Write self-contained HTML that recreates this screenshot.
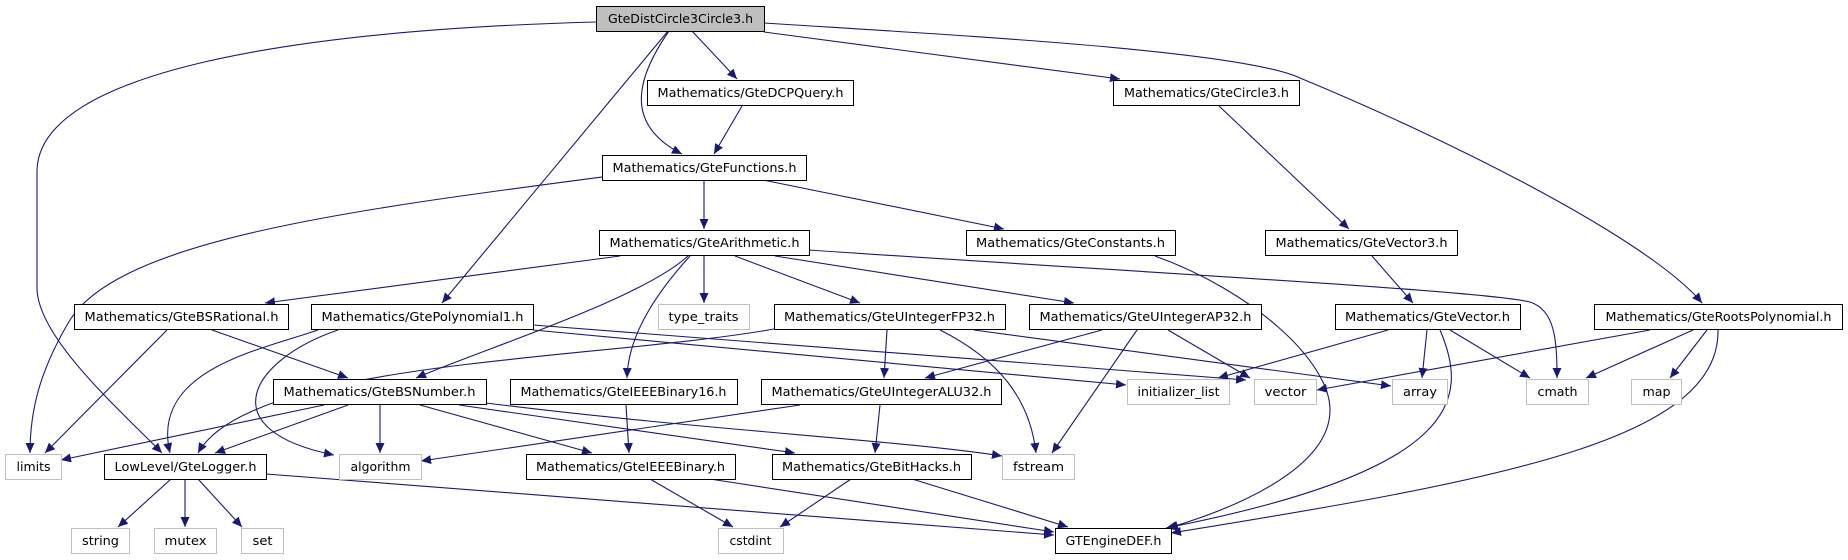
<!DOCTYPE html>
<html><head><meta charset="utf-8"><style>
html,body{margin:0;padding:0;background:#fff;width:1848px;height:560px;overflow:hidden}
svg text{font-family:"DejaVu Sans","Liberation Sans",sans-serif;font-size:12.5px;fill:#000}
</style></head><body>
<svg width="1848" height="560" viewBox="0 0 1848 560" xmlns="http://www.w3.org/2000/svg">
<defs>
<marker id="a" viewBox="0 0 10 10" refX="10" refY="5" markerWidth="10" markerHeight="10" markerUnits="userSpaceOnUse" orient="auto">
<path d="M0,0.5 L10,5 L0,9.5 z" fill="#191970"/>
</marker>
</defs>
<g fill="none" stroke="#191970" stroke-width="1.1" marker-end="url(#a)">
<path d="M596,22 C300,30 40,70 37,170 L37,290 C40,340 120,410 162,453"/>
<path d="M669,31 C635,80 625,125 682,154"/>
<path d="M668,31 L442,303"/>
<path d="M692,31 L737,79"/>
<path d="M764,32 L1120,79"/>
<path d="M764,23 C950,35 1240,50 1300,78 C1450,140 1650,240 1702,303"/>
<path d="M742,106 L714,154"/>
<path d="M602,177 C350,210 120,240 70,320 C40,370 30,410 30,453"/>
<path d="M704,180 L704,229"/>
<path d="M763,180 L1004,229"/>
<path d="M620,256 L265,303"/>
<path d="M688,256 C640,300 480,350 416,378"/>
<path d="M690,256 C650,300 628,340 627,378"/>
<path d="M704,256 L704,303"/>
<path d="M735,256 L860,303"/>
<path d="M775,256 L1074,303"/>
<path d="M809,250 C1100,270 1480,290 1530,302 C1555,310 1557,340 1557,378"/>
<path d="M1155,256 C1250,290 1330,360 1330,410 C1330,470 1230,510 1168,528"/>
<path d="M1372,256 L1413,303"/>
<path d="M1219,106 L1349,229"/>
<path d="M167,330 L45,453"/>
<path d="M212,330 L348,378"/>
<path d="M318,330 C260,350 150,370 170,453"/>
<path d="M338,330 C250,360 210,430 334,455"/>
<path d="M533,325 L1246,380"/>
<path d="M533,330 L1126,385"/>
<path d="M774,329 C600,360 250,360 198,453"/>
<path d="M887,330 L884,378"/>
<path d="M940,330 C1000,360 1030,400 1036,453"/>
<path d="M974,330 L1391,386"/>
<path d="M1102,330 L925,378"/>
<path d="M1137,330 L1052,453"/>
<path d="M1168,330 L1250,378"/>
<path d="M1388,330 L1218,378"/>
<path d="M1427,330 L1422,378"/>
<path d="M1450,330 L1530,378"/>
<path d="M1440,330 C1470,400 1460,470 1166,528"/>
<path d="M1650,330 L1317,390"/>
<path d="M1693,330 L1586,378"/>
<path d="M1707,330 L1670,378"/>
<path d="M1718,330 C1720,440 1500,480 1171,533"/>
<path d="M324,405 L61,460"/>
<path d="M348,405 L215,453"/>
<path d="M380,405 L380,453"/>
<path d="M420,405 L592,453"/>
<path d="M459,405 L795,453"/>
<path d="M486,403 C700,430 900,440 1002,456"/>
<path d="M626,405 L629,453"/>
<path d="M800,405 L421,461"/>
<path d="M880,405 L875,453"/>
<path d="M171,479 L118,527"/>
<path d="M185,479 L185,527"/>
<path d="M198,479 L242,527"/>
<path d="M266,474 L1054,535"/>
<path d="M650,479 L733,527"/>
<path d="M710,479 L1054,532"/>
<path d="M851,479 L780,527"/>
<path d="M912,479 L1068,527"/>
</g>
<g stroke-width="1">
<rect x="596.5" y="6.5" width="168" height="25" fill="#bfbfbf" stroke="#000"/>
<g fill="#fff" stroke="#000">
<rect x="647.5" y="80.5" width="206" height="25"/>
<rect x="1113.5" y="80.5" width="186" height="25"/>
<rect x="602.5" y="155.5" width="204" height="25"/>
<rect x="599.5" y="230.5" width="210" height="25"/>
<rect x="966.5" y="230.5" width="209" height="25"/>
<rect x="1265.5" y="230.5" width="192" height="25"/>
<rect x="74.5" y="304.5" width="214" height="25"/>
<rect x="311.5" y="304.5" width="222" height="25"/>
<rect x="774.5" y="304.5" width="231" height="25"/>
<rect x="1029.5" y="304.5" width="232" height="25"/>
<rect x="1335.5" y="304.5" width="185" height="25"/>
<rect x="1594.5" y="304.5" width="248" height="25"/>
<rect x="273.5" y="379.5" width="213" height="25"/>
<rect x="510.5" y="379.5" width="227" height="25"/>
<rect x="761.5" y="379.5" width="240" height="25"/>
<rect x="104.5" y="454.5" width="162" height="25"/>
<rect x="526.5" y="454.5" width="209" height="25"/>
<rect x="772.5" y="454.5" width="199" height="25"/>
<rect x="1055.5" y="528.5" width="116" height="25"/>
</g>
<g fill="#fff" stroke="#bfbfbf">
<rect x="658.5" y="304.5" width="91" height="25"/>
<rect x="1127.5" y="379.5" width="102" height="25"/>
<rect x="1254.5" y="379.5" width="62" height="25"/>
<rect x="1392.5" y="379.5" width="55" height="25"/>
<rect x="1526.5" y="379.5" width="62" height="25"/>
<rect x="1631.5" y="379.5" width="50" height="25"/>
<rect x="5.5" y="454.5" width="56" height="25"/>
<rect x="339.5" y="454.5" width="82" height="25"/>
<rect x="1002.5" y="454.5" width="72" height="25"/>
<rect x="71.5" y="528.5" width="58" height="25"/>
<rect x="154.5" y="528.5" width="62" height="25"/>
<rect x="241.5" y="528.5" width="42" height="25"/>
<rect x="718.5" y="528.5" width="65" height="25"/>
</g>
</g>
<g text-anchor="middle">
<text x="680.5" y="23" textLength="145" lengthAdjust="spacingAndGlyphs">GteDistCircle3Circle3.h</text>
<text x="750.5" y="97" textLength="186" lengthAdjust="spacingAndGlyphs">Mathematics/GteDCPQuery.h</text>
<text x="1206.5" y="97" textLength="165" lengthAdjust="spacingAndGlyphs">Mathematics/GteCircle3.h</text>
<text x="704.5" y="172" textLength="184" lengthAdjust="spacingAndGlyphs">Mathematics/GteFunctions.h</text>
<text x="704.5" y="247" textLength="190" lengthAdjust="spacingAndGlyphs">Mathematics/GteArithmetic.h</text>
<text x="1070.5" y="247" textLength="189" lengthAdjust="spacingAndGlyphs">Mathematics/GteConstants.h</text>
<text x="1361.5" y="247" textLength="172" lengthAdjust="spacingAndGlyphs">Mathematics/GteVector3.h</text>
<text x="181.5" y="321" textLength="194" lengthAdjust="spacingAndGlyphs">Mathematics/GteBSRational.h</text>
<text x="422.5" y="321" textLength="202" lengthAdjust="spacingAndGlyphs">Mathematics/GtePolynomial1.h</text>
<text x="703.5" y="321" textLength="70" lengthAdjust="spacingAndGlyphs">type_traits</text>
<text x="889.5" y="321" textLength="211" lengthAdjust="spacingAndGlyphs">Mathematics/GteUIntegerFP32.h</text>
<text x="1145.5" y="321" textLength="212" lengthAdjust="spacingAndGlyphs">Mathematics/GteUIntegerAP32.h</text>
<text x="1427.5" y="321" textLength="165" lengthAdjust="spacingAndGlyphs">Mathematics/GteVector.h</text>
<text x="1718.5" y="321" textLength="226" lengthAdjust="spacingAndGlyphs">Mathematics/GteRootsPolynomial.h</text>
<text x="379.5" y="396" textLength="192" lengthAdjust="spacingAndGlyphs">Mathematics/GteBSNumber.h</text>
<text x="623.5" y="396" textLength="206" lengthAdjust="spacingAndGlyphs">Mathematics/GteIEEEBinary16.h</text>
<text x="881.5" y="396" textLength="220" lengthAdjust="spacingAndGlyphs">Mathematics/GteUIntegerALU32.h</text>
<text x="1178.5" y="396" textLength="82" lengthAdjust="spacingAndGlyphs">initializer_list</text>
<text x="1285.5" y="396" textLength="42" lengthAdjust="spacingAndGlyphs">vector</text>
<text x="1420" y="396" textLength="34" lengthAdjust="spacingAndGlyphs">array</text>
<text x="1557.5" y="396" textLength="40" lengthAdjust="spacingAndGlyphs">cmath</text>
<text x="1656.5" y="396" textLength="28" lengthAdjust="spacingAndGlyphs">map</text>
<text x="33.5" y="471" textLength="34" lengthAdjust="spacingAndGlyphs">limits</text>
<text x="185.5" y="471" textLength="142" lengthAdjust="spacingAndGlyphs">LowLevel/GteLogger.h</text>
<text x="380.5" y="471" textLength="60" lengthAdjust="spacingAndGlyphs">algorithm</text>
<text x="630.5" y="471" textLength="189" lengthAdjust="spacingAndGlyphs">Mathematics/GteIEEEBinary.h</text>
<text x="871.5" y="471" textLength="179" lengthAdjust="spacingAndGlyphs">Mathematics/GteBitHacks.h</text>
<text x="1038.5" y="471" textLength="51" lengthAdjust="spacingAndGlyphs">fstream</text>
<text x="100.5" y="545" textLength="37" lengthAdjust="spacingAndGlyphs">string</text>
<text x="185.5" y="545" textLength="42" lengthAdjust="spacingAndGlyphs">mutex</text>
<text x="262.5" y="545" textLength="20" lengthAdjust="spacingAndGlyphs">set</text>
<text x="750.5" y="545" textLength="42" lengthAdjust="spacingAndGlyphs">cstdint</text>
<text x="1113.5" y="545" textLength="96" lengthAdjust="spacingAndGlyphs">GTEngineDEF.h</text>
</g>
</svg>
</body></html>
